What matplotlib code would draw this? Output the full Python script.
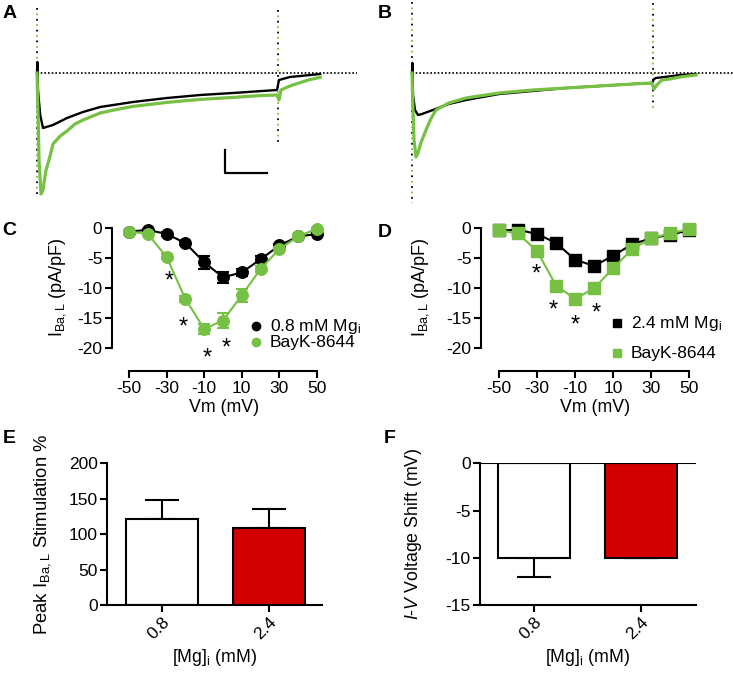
import matplotlib.pyplot as plt
from matplotlib.lines import Line2D

plt.rcParams['font.family'] = ['Liberation Sans', 'DejaVu Sans']
plt.rcParams['mathtext.fontset'] = 'custom'
plt.rcParams['mathtext.rm'] = 'Liberation Sans'
plt.rcParams['mathtext.it'] = 'Liberation Sans:italic'
plt.rcParams['mathtext.bf'] = 'Liberation Sans:bold'
plt.rcParams['axes.unicode_minus'] = False

W, H = 733, 679
GREEN = '#76c043'
RED = '#d40000'

# ---- A: 0.8 mM Mg traces (ms, pA) ----
ta_ctrl = [0, 0.5, 1.25, 4, 7.5, 20, 37.5, 57.5, 79, 120, 162.5, 204, 245, 300, 302.5, 316, 329, 354]
ia_ctrl = [0, 55, -85, -210, -275, -260, -225, -195, -170, -145, -125, -110, -100, -85, -35, -20, -15, -5]
ta_bay = [0, 1.25, 2.5, 5, 7.5, 11, 16, 20, 29, 37.5, 47.5, 57.5, 79, 100, 120, 162.5, 204, 245, 279,
          300, 302.5, 305, 316, 329, 341, 354]
ia_bay = [0, -185, -435, -605, -585, -490, -420, -355, -315, -290, -255, -235, -200, -182, -167, -147,
          -132, -122, -113, -110, -135, -85, -65, -48, -33, -22]
a_transients = [(0, 325, -620), (301, 315, -360)]

# ---- B: 2.4 mM Mg traces ----
tb_ctrl = [0, 0.5, 1.25, 3.75, 7.5, 12.5, 26, 46, 67.5, 109, 151, 192.5, 234, 276, 300, 302.5, 305, 316, 335, 355]
ib_ctrl = [0, 50, -110, -185, -210, -205, -185, -155, -135, -105, -90, -75, -65, -55, -50, -30, -25, -20, -10, -5]
tb_bay = [0, 1.25, 2.5, 5, 7.5, 11, 17.5, 24, 30, 46, 67.5, 109, 151, 192.5, 234, 276, 300, 302.5,
          306, 312.5, 322.5, 335, 355]
ib_bay = [0, -185, -335, -420, -400, -350, -285, -225, -185, -150, -125, -100, -85, -75, -65, -55,
          -50, -80, -60, -35, -30, -20, -10]
b_transients = [(0, 355, -650), (301, 350, -185)]

# scale bar (ms, pA)
sb_t, sb_i, sb_dt, sb_di = 235, -500, 52.5, 115

# ---- C / D: I-V curves ----
vm = [-50, -40, -30, -20, -10, 0, 10, 20, 30, 40, 50]
c_ctrl = [-0.6, -0.3, -1.0, -2.5, -5.7, -8.2, -7.4, -5.2, -2.9, -1.4, -1.0]
c_ctrl_err = [0.1, 0.2, 0.3, 0.4, 1.1, 0.9, 0.6, 0.5, 0.3, 0.2, 0.2]
c_bay = [-0.6, -1.0, -4.8, -11.8, -16.8, -15.4, -11.2, -6.8, -3.5, -1.4, -0.1]
c_bay_err = [0.2, 0.2, 0.4, 0.5, 0.8, 1.2, 1.1, 0.5, 0.4, 0.2, 0.1]
c_star_v = [-28.8, -21.2, -8.4, 1.9]
c_star_i = [-7.9, -15.4, -20.6, -18.9]

d_ctrl = [-0.4, -0.3, -1.0, -2.5, -5.3, -6.3, -4.6, -2.7, -1.7, -1.1, -0.4]
d_ctrl_err = [0.1, 0.1, 0.2, 0.3, 0.5, 0.6, 0.5, 0.3, 0.2, 0.2, 0.1]
d_bay = [-0.4, -0.9, -3.9, -9.6, -11.8, -10.0, -6.7, -3.5, -1.7, -0.9, -0.2]
d_bay_err = [0.1, 0.2, 0.4, 0.6, 0.6, 0.6, 0.5, 0.3, 0.2, 0.1, 0.1]
d_star_v = [-30.7, -21.6, -10.0, 0.9]
d_star_i = [-6.6, -12.6, -15.2, -13.1]

# ---- E / F: bars ----
mg_labels = ['0.8', '2.4']
stim = [122, 109]
stim_err = [26, 26]
shift = [-10, -10]
shift_err = [2, 0]

fig = plt.figure(figsize=(W / 100, H / 100), dpi=100)


def add_ax(l, t, r, b):
    return fig.add_axes([l / W, 1 - b / H, (r - l) / W, (b - t) / H])


def ftext(x, y, s, **kw):
    return fig.text(x / W, 1 - y / H, s, **kw)


def fmarker(x, y, **kw):
    fig.add_artist(Line2D([x / W], [1 - y / H], transform=fig.transFigure, ls='none', **kw))


def traces(ax, tc, ic, tg, ig, trans, base_end):
    ax.plot([0, base_end], [0, 0], color='black', lw=1.2, ls=(0, (1, 1.2)))
    for t, top, bot in trans:
        ax.plot([t, t], [top, bot], color='black', lw=1.3, ls=(0, (1, 5)))
        ax.plot([t, t], [top, bot], color=GREEN, lw=1.3, ls=(3, (1, 5)))
    ax.plot(tc, ic, color='black', lw=1.7, solid_joinstyle='round')
    ax.plot(tg, ig, color=GREEN, lw=2.3, solid_joinstyle='round')
    ax.set_ylim(-660, 365)
    ax.axis('off')


axA = add_ax(30, 0, 362, 205)
traces(axA, ta_ctrl, ia_ctrl, ta_bay, ia_bay, a_transients, 400)
axA.set_xlim(-8.75, 406.25)
axA.plot([sb_t, sb_t, sb_t + sb_dt], [sb_i + sb_di, sb_i, sb_i], color='black', lw=1.6)

axB = add_ax(404, 0, 733, 205)
traces(axB, tb_ctrl, ib_ctrl, tb_bay, ib_bay, b_transients, 401)
axB.set_xlim(-10, 401.25)


def style(ax):
    for s in ['top', 'right']:
        ax.spines[s].set_visible(False)
    for s in ['left', 'bottom']:
        ax.spines[s].set_linewidth(1.5)
    ax.tick_params(direction='out', length=5, width=1.5, labelsize=12.5, pad=2)


def iv_panel(ax, ctrl, ctrl_err, bay, bay_err, mk, sv, si):
    style(ax)
    ax.errorbar(vm, ctrl, yerr=ctrl_err, fmt='-' + mk, color='black', ms=8.3, lw=1.5,
                capsize=4, elinewidth=1.5, capthick=1.5, clip_on=False, zorder=3)
    ax.errorbar(vm, bay, yerr=bay_err, fmt='-' + mk, color=GREEN, ms=8.3, lw=1.5,
                capsize=4, elinewidth=1.5, capthick=1.5, clip_on=False, zorder=4)
    for v, i in zip(sv, si):
        ax.annotate('*', (v, i), xytext=(0, -9), textcoords='offset points',
                    ha='center', va='baseline', fontsize=17)
    ax.set_ylim(-23.8, 1)
    ax.set_yticks([0, -5, -10, -15, -20])
    ax.set_xticks([-50, -30, -10, 10, 30, 50])
    ax.spines['left'].set_bounds(-20, 0)
    ax.spines['bottom'].set_bounds(-50, 50)


axC = add_ax(112, 222, 320.8, 371)
axC.set_xlim(-59, 52)
iv_panel(axC, c_ctrl, c_ctrl_err, c_bay, c_bay_err, 'o', c_star_v, c_star_i)

axD = add_ax(481, 222, 693, 371)
axD.set_xlim(-59.6, 52)
iv_panel(axD, d_ctrl, d_ctrl_err, d_bay, d_bay_err, 's', d_star_v, d_star_i)

ylab_iv = r'I$_{\mathrm{Ba,L}}$ (pA/pF)'
ftext(58, 287, ylab_iv, rotation=90, ha='center', va='center', fontsize=13)
ftext(421, 287, ylab_iv, rotation=90, ha='center', va='center', fontsize=13)
ftext(224, 407, 'Vm (mV)', ha='center', va='center', fontsize=12.8)
ftext(595, 407, 'Vm (mV)', ha='center', va='center', fontsize=12.8)

# legends
fmarker(256, 326, marker='o', ms=6, color='black')
fmarker(256, 342, marker='o', ms=6, color=GREEN)
ftext(270, 331, r'0.8 mM Mg$_{\mathrm{i}}$', fontsize=12.5, va='baseline')
ftext(270, 347, 'BayK-8644', fontsize=12.5, va='baseline')
fmarker(617, 323, marker='s', ms=6, color='black')
fmarker(617, 353, marker='s', ms=6, color=GREEN)
ftext(631, 328, r'2.4 mM Mg$_{\mathrm{i}}$', fontsize=12.5, va='baseline')
ftext(631, 358, 'BayK-8644', fontsize=12.5, va='baseline')

# bar panels
x = [0, 1]
axE = add_ax(107.3, 463.3, 322, 605)
style(axE)
axE.bar(x, stim, width=0.68, color=['white', RED], edgecolor='black', linewidth=1.5, zorder=2)
axE.errorbar(x, stim, yerr=[[0, 0], stim_err], fmt='none', ecolor='black', capsize=12,
             elinewidth=1.5, capthick=1.5, zorder=1)
axE.set_xlim(-0.516, 1.5)
axE.set_ylim(0, 200)
axE.set_yticks([0, 50, 100, 150, 200])
axE.set_xticks(x)
axE.set_xticklabels(mg_labels, rotation=45, ha='right', rotation_mode='anchor')
ftext(43, 534, r'Peak I$_{\mathrm{Ba,L}}$ Stimulation %', rotation=90, ha='center', va='center',
      fontsize=13.3)
ftext(215, 657, r'[Mg]$_{\mathrm{i}}$ (mM)', ha='center', va='center', fontsize=12.8)

axF = add_ax(480.3, 463.3, 696, 605)
style(axF)
axF.bar(x, shift, width=0.665, color=['white', RED], edgecolor='black', linewidth=1.5, zorder=2)
axF.errorbar(x, shift, yerr=[shift_err, [0, 0]], fmt='none', ecolor='black', capsize=12.5,
             elinewidth=1.5, capthick=1.5, zorder=1)
axF.axhline(0, color='black', lw=1.5, zorder=3)
axF.set_xlim(-0.5, 1.513)
axF.set_ylim(-15, 0)
axF.set_yticks([0, -5, -10, -15])
axF.set_xticks(x)
axF.set_xticklabels(mg_labels, rotation=45, ha='right', rotation_mode='anchor')
ftext(413, 534, r'$I$-$V$ Voltage Shift (mV)', rotation=90, ha='center', va='center', fontsize=12.8)
ftext(588, 657, r'[Mg]$_{\mathrm{i}}$ (mM)', ha='center', va='center', fontsize=12.8)

# panel letters
for s, px, py in [('A', 3, 18), ('B', 378, 18), ('C', 2, 235), ('D', 378, 237),
                  ('E', 3, 443), ('F', 384, 443)]:
    ftext(px, py, s, fontsize=14, fontweight='bold', va='baseline')

fig.savefig('out.png', dpi=100)
